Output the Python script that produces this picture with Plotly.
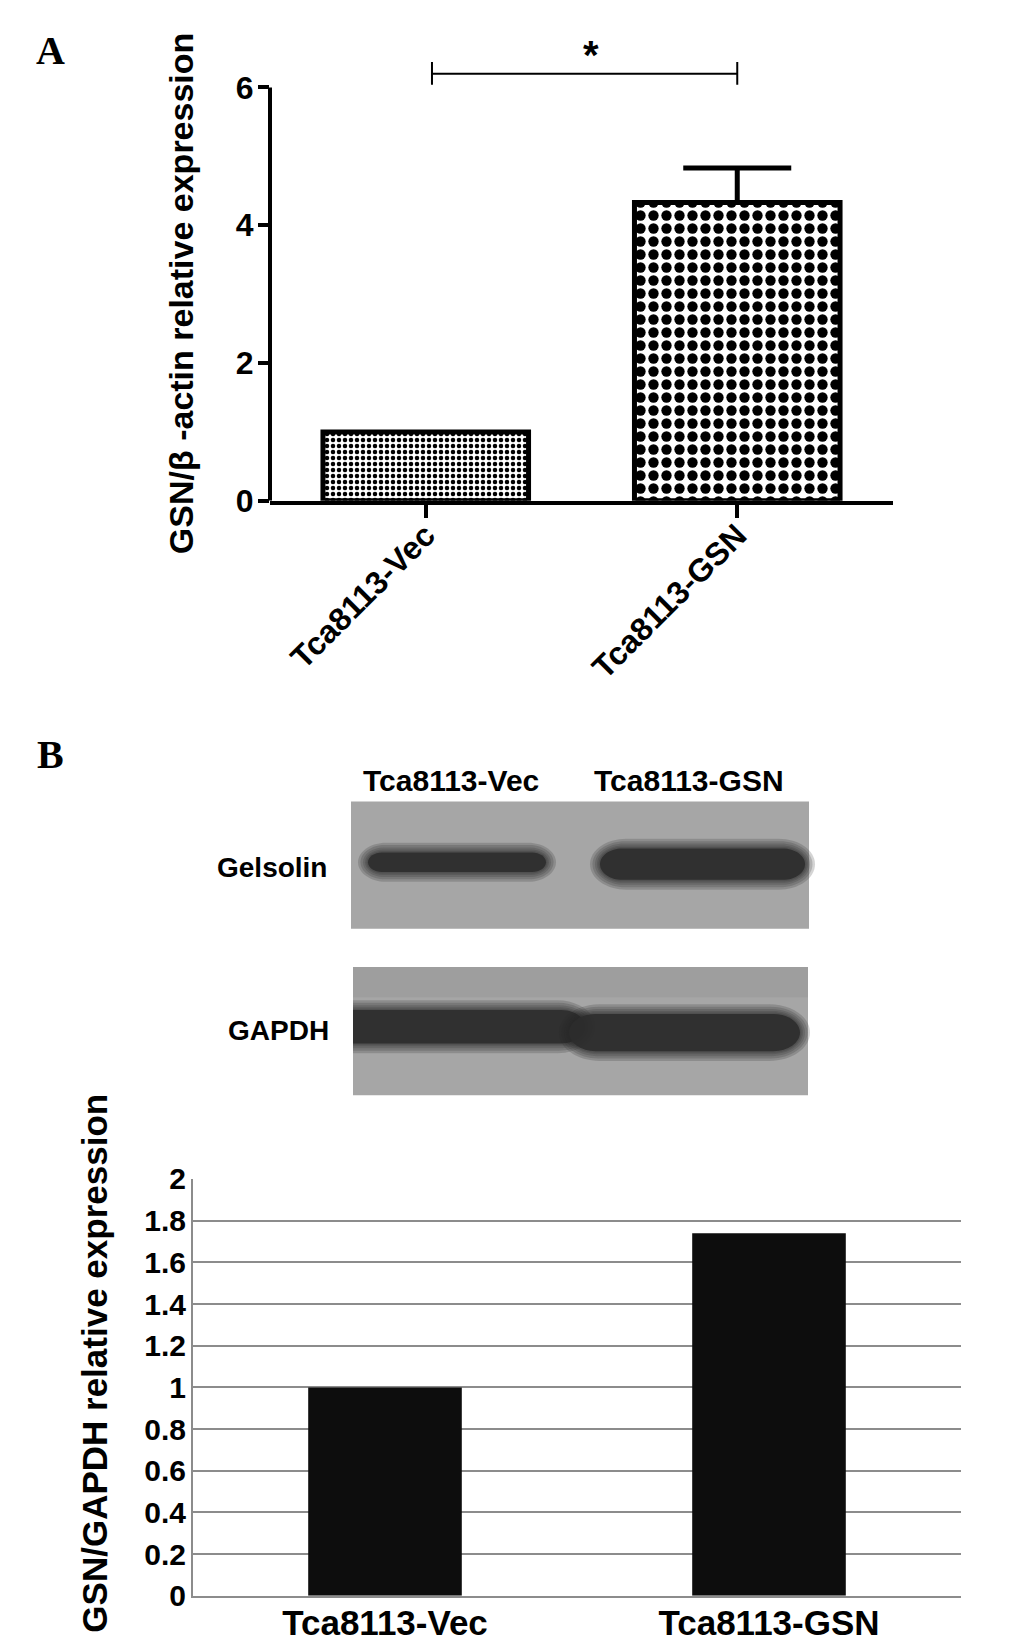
import plotly.graph_objects as go

W, H = 1033, 1651

# ---------------- data ----------------
# Panel A (qPCR)
catsA = ["Tca8113-Vec", "Tca8113-GSN"]
valsA = [1.0, 4.33]
errA = [0.0, 0.50]
yticksA = [0, 2, 4, 6]
titleA = "GSN/β -actin relative expression"

# Panel B (western blot quantification)
catsB = ["Tca8113-Vec", "Tca8113-GSN"]
valsB = [1.0, 1.74]
yticksB = [0, 0.2, 0.4, 0.6, 0.8, 1.0, 1.2, 1.4, 1.6, 1.8, 2.0]
yticktextB = ["0", "0.2", "0.4", "0.6", "0.8", "1", "1.2", "1.4", "1.6", "1.8", "2"]
titleB = "GSN/GAPDH relative expression"
blot_lanes = ["Tca8113-Vec", "Tca8113-GSN"]
blot_rows = ["Gelsolin", "GAPDH"]

FONT = "Liberation Sans, Arial, sans-serif"
SERIF = "Liberation Serif, Times New Roman, serif"


def px(x):
    return x / W


def py(y):
    return 1 - y / H


# domains (pixel layout of the figure)
xdomA = [px(270), px(893)]
ydomA = [py(495), py(37.8)]
xdomB = [px(193), px(961)]
ydomB = [py(1613), py(1187)]

fig = go.Figure()

# ---- Panel A bars ----
fig.add_trace(go.Bar(
    x=[catsA[0]], y=[valsA[0]], width=0.66, xaxis="x", yaxis="y",
    marker=dict(color="white", line=dict(color="black", width=5),
                pattern=dict(shape=".", fgcolor="#000000", bgcolor="#ffffff",
                             fgopacity=1, fillmode="replace", size=6, solidity=0.45)),
    showlegend=False, hoverinfo="skip"))
fig.add_trace(go.Bar(
    x=[catsA[1]], y=[valsA[1]], width=0.66, xaxis="x", yaxis="y",
    marker=dict(color="white", line=dict(color="black", width=5),
                pattern=dict(shape=".", fgcolor="#000000", bgcolor="#ffffff",
                             fgopacity=1, fillmode="replace", size=13, solidity=0.5)),
    error_y=dict(type="data", symmetric=False, array=[errA[1]], arrayminus=[0],
                 color="black", thickness=5, width=54),
    showlegend=False, hoverinfo="skip"))

# ---- Panel B bars ----
fig.add_trace(go.Bar(
    x=catsB, y=valsB, width=0.4, xaxis="x2", yaxis="y2",
    marker=dict(color="#0d0d0d", line=dict(width=0)),
    showlegend=False, hoverinfo="skip"))

shapes = []
# y spine for panel A (from 0 to 6 only)
shapes.append(dict(type="line", xref="paper", yref="y", x0=xdomA[0], x1=xdomA[0],
                   y0=0, y1=yticksA[-1], line=dict(color="black", width=4)))
# significance bracket
br_y = 6.2
shapes.append(dict(type="line", xref="x", yref="y", x0=0.02, x1=1.0, y0=br_y, y1=br_y,
                   line=dict(color="black", width=2)))
for xx in (0.02, 1.0):
    shapes.append(dict(type="line", xref="x", yref="y", x0=xx, x1=xx, y0=6.04, y1=6.37,
                       line=dict(color="black", width=2)))


# ---- western blot picture ----
def rect(x0, y0, x1, y1, color, opacity=1.0):
    return dict(type="rect", xref="paper", yref="paper", x0=px(x0), x1=px(x1),
                y0=py(y1), y1=py(y0), fillcolor=color, opacity=opacity,
                line=dict(width=0), layer="below")


def band(x0, x1, yc, h, color, opacity, grow=0, flat_left=False):
    k = 0.5523
    x0 = x0 - (0 if flat_left else grow)
    x1 = x1 + grow
    ry = max(h / 2 + grow, 1)
    rx = min(ry * 1.4, (x1 - x0) / 2)

    def P(x, y):
        return f"{px(x):.5f},{py(y):.5f}"
    top, bot = yc - ry, yc + ry
    if flat_left:
        d = f"M{P(x0, top)} L{P(x1 - rx, top)} "
    else:
        d = f"M{P(x0 + rx, top)} L{P(x1 - rx, top)} "
    d += f"C{P(x1 - rx + k * rx, top)} {P(x1, yc - k * ry)} {P(x1, yc)} "
    d += f"C{P(x1, yc + k * ry)} {P(x1 - rx + k * rx, bot)} {P(x1 - rx, bot)} "
    if flat_left:
        d += f"L{P(x0, bot)} Z"
    else:
        d += f"L{P(x0 + rx, bot)} "
        d += f"C{P(x0 + rx - k * rx, bot)} {P(x0, yc + k * ry)} {P(x0, yc)} "
        d += f"C{P(x0, yc - k * ry)} {P(x0 + rx - k * rx, top)} {P(x0 + rx, top)} Z"
    return dict(type="path", xref="paper", yref="paper", path=d, fillcolor=color,
                opacity=opacity, line=dict(width=0), layer="below")


MEMB = "#a6a6a6"
shapes.append(rect(351, 802, 809, 932, MEMB))
shapes.append(rect(353, 971, 808, 1102, MEMB))
# slight darker top strip on GAPDH membrane
shapes.append(rect(353, 971, 808, 1002, "#8f8f8f", 0.35))

band_specs = [
    # x0, x1, yc, h, flat_left
    (368, 546, 864, 20, False),
    (600, 805, 866, 32, False),
    (353, 585, 1032, 34, True),
    (569, 800, 1038, 38, False),
]
for (x0, x1, yc, h, fl) in band_specs:
    for g in (10, 7.5, 5, 3, 1.5):
        shapes.append(band(x0, x1, yc, h, "#2a2a2a", 0.2, grow=g, flat_left=fl))
    shapes.append(band(x0, x1, yc, h, "#2c2c2c", 0.9, grow=0, flat_left=fl))

annotations = []


def txt(x, y, s, size, family=FONT, weight="bold", xanchor="center", angle=0, yanchor="middle"):
    annotations.append(dict(xref="paper", yref="paper", x=px(x), y=py(y), text=s,
                            showarrow=False, xanchor=xanchor, yanchor=yanchor,
                            textangle=angle,
                            font=dict(family=family, size=size, color="black", weight=weight)))


txt(50, 35, "A", 40, family=SERIF)
txt(50, 754, "B", 40, family=SERIF)
txt(181, 283, titleA, 34, angle=-90)
txt(95, 1376, titleB, 35, angle=-90)
txt(451, 781, blot_lanes[0], 30)
txt(689, 781, blot_lanes[1], 30)
txt(329, 869, blot_rows[0], 28, xanchor="right")
txt(331, 1036, blot_rows[1], 28, xanchor="right")

# asterisk
annotations.append(dict(xref="x", yref="y", x=0.53, y=6.47, text="*", showarrow=False,
                        xanchor="center", yanchor="middle",
                        font=dict(family=FONT, size=40, color="black", weight="bold")))

fig.update_layout(
    width=W, height=H, margin=dict(l=0, r=0, t=0, b=0),
    paper_bgcolor="white", plot_bgcolor="rgba(0,0,0,0)",
    barmode="overlay", showlegend=False,
    shapes=shapes, annotations=annotations,
    xaxis=dict(domain=xdomA, anchor="y", type="category", range=[-0.5, 1.5],
               showline=True, linecolor="black", linewidth=4,
               ticks="outside", ticklen=13, tickwidth=4, tickcolor="black",
               tickangle=-45, showgrid=False, zeroline=False, ticklabelstandoff=-14,
               tickfont=dict(family=FONT, size=32, color="black", weight="bold")),
    yaxis=dict(domain=ydomA, anchor="x", range=[0, 6.5], showline=False,
               tickvals=yticksA, ticks="outside", ticklen=11, tickwidth=4,
               tickcolor="black", showgrid=False, zeroline=False, ticklabelstandoff=-2,
               tickfont=dict(family=FONT, size=32, color="black", weight="bold")),
    xaxis2=dict(domain=xdomB, anchor="y2", type="category", range=[-0.5, 1.5],
                showline=True, linecolor="#8c8c8c", linewidth=2, ticks="",
                showgrid=False, zeroline=False, ticklabelstandoff=-5,
                tickfont=dict(family=FONT, size=35, color="black", weight="bold")),
    yaxis2=dict(domain=ydomB, anchor="x2", range=[0, 2.002], tickvals=yticksB,
                ticktext=yticktextB, showline=True, linecolor="#8c8c8c", linewidth=2,
                showgrid=True, gridcolor="#8c8c8c", gridwidth=2, ticks="",
                zeroline=False, ticklabelstandoff=-1,
                tickfont=dict(family=FONT, size=30, color="black", weight="bold")),
)

fig.write_html("out.html", config={"displayModeBar": False},
               post_script="document.body.style.margin='0px';document.body.style.overflow='hidden';")
